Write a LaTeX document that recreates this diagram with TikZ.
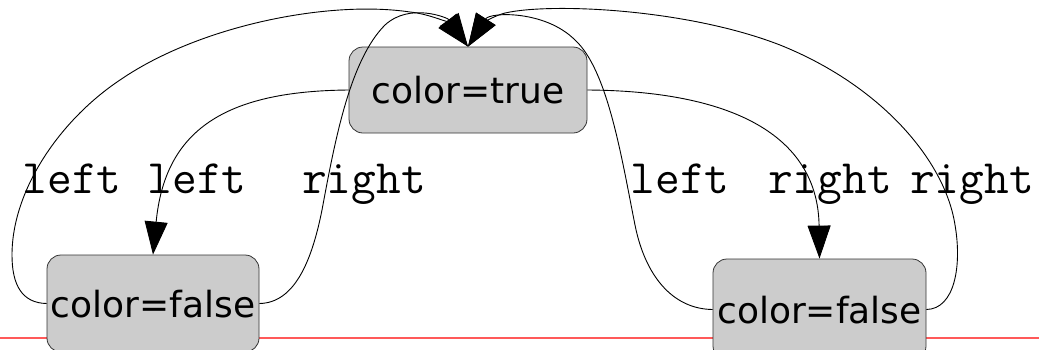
\documentclass[tikz,border=0pt]{standalone}
\usepackage{fontspec}
\setmainfont{DejaVu Sans}
\usetikzlibrary{arrows.meta}
\begin{document}
\begin{tikzpicture}[x=1pt,y=-1pt,
  state/.style={draw=black!80, fill=black!20, rounded corners=14pt, line width=0.8pt,
    inner sep=0pt, font=\fontsize{36}{40}\selectfont, text height=27pt, text depth=0pt},
  trans/.style={draw=black, line width=0.9pt, -{Triangle[length=33pt,width=23pt]}},
  elabel/.style={font=\ttfamily\fontsize{48}{52}\selectfont, anchor=base, inner sep=0pt},
  guide/.style={draw=red!65, line width=1.2pt}]
\useasboundingbox (0,0) rectangle (1039,349);
\clip (0,0) rectangle (1039,349);

% baseline guide behind the states
\coordinate (gl) at (0,338);
\coordinate (gr) at (1039,338);
\draw[guide] (gl) -- (gr);

% states
\node[state, minimum width=238pt, minimum height=86pt] (T) at (468,90) {color=true};
\node[state, minimum width=212pt, minimum height=97pt] (FL) at (153,303.5) {color=false};
\node[state, minimum width=213pt, minimum height=101pt] (FR) at (819.5,309.5) {color=false};

% transitions
\draw[trans] (T.west) .. controls (225,91) and (165,130) .. (FL.north);
\draw[trans] (FL.west) .. controls (22,303) and (12,285) .. (12,255)
  .. controls (12,190) and (60,120) .. (120,80)
  .. controls (200,25) and (330,0) .. (410,12)
  .. controls (430,14) and (450,24) .. (T.north);
\draw[trans] (FL.east) .. controls (295,303) and (312,260) .. (322,210)
  .. controls (335,140) and (350,60) .. (385,25)
  .. controls (410,2) and (448,18) .. (T.north);
\draw[trans] (T.east) .. controls (740,91) and (818,140) .. (FR.north);
\draw[trans] (FR.west) .. controls (672,309) and (645,275) .. (635,225)
  .. controls (622,160) and (608,70) .. (575,40)
  .. controls (545,10) and (490,12) .. (T.north);
\draw[trans] (FR.east) .. controls (955,309) and (962,265) .. (955,225)
  .. controls (945,160) and (880,85) .. (780,45)
  .. controls (690,10) and (560,3) .. (510,12)
  .. controls (495,14) and (482,25) .. (T.north);

% transition labels
\node[elabel] (l1) at (72,193) {left};
\node[elabel] (l2) at (197,193) {left};
\node[elabel] (l3) at (364,193) {right};
\node[elabel] (l4) at (680,193) {left};
\node[elabel] (l5) at (830,193) {right};
\node[elabel] (l6) at (972,193) {right};
\end{tikzpicture}
\end{document}
